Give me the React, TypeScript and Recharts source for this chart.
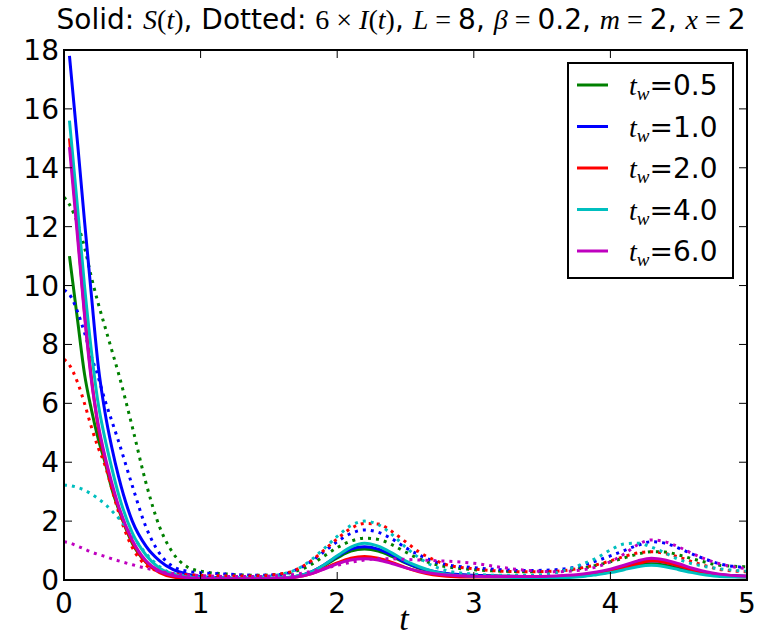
import { LineChart, Line, XAxis, YAxis, Legend } from 'recharts'

// time grid (solid curves start at the second point)
const T = [0, 0.04, 0.1, 0.15, 0.2, 0.25, 0.3, 0.35, 0.4, 0.5, 0.6, 0.7, 0.8, 0.9, 1.0, 1.2, 1.4, 1.6, 1.7, 1.8, 1.9, 2.0, 2.1, 2.2, 2.3, 2.4, 2.5, 2.6, 2.7, 2.8, 3.0, 3.2, 3.4, 3.6, 3.8, 3.9, 4.0, 4.1, 4.2, 4.3, 4.4, 4.5, 4.6, 4.7, 4.8, 5.0]

const TW_LABELS = ['0.5', '1.0', '2.0', '4.0', '6.0']
const COLORS = ['#008000', '#0000ff', '#ff0000', '#00bfbf', '#bf00bf']

// Solid: S(t)
const S_05 = [null, 11.0, 8.8, 7.0, 5.8, 4.8, 4.0, 3.1, 2.4, 1.25, 0.6, 0.28, 0.13, 0.07, 0.05, 0.04, 0.04, 0.07, 0.12, 0.25, 0.48, 0.75, 0.98, 1.05, 0.98, 0.8, 0.58, 0.4, 0.28, 0.2, 0.15, 0.13, 0.12, 0.12, 0.15, 0.2, 0.28, 0.4, 0.5, 0.55, 0.5, 0.4, 0.3, 0.22, 0.17, 0.13]
const S_10 = [null, 17.8, 14.8, 12.2, 9.7, 7.3, 5.7, 4.5, 3.5, 2.0, 1.15, 0.65, 0.35, 0.2, 0.12, 0.07, 0.05, 0.07, 0.12, 0.25, 0.5, 0.8, 1.05, 1.13, 1.05, 0.85, 0.6, 0.42, 0.3, 0.22, 0.16, 0.13, 0.12, 0.12, 0.16, 0.22, 0.32, 0.45, 0.58, 0.65, 0.6, 0.48, 0.35, 0.25, 0.18, 0.13]
const S_20 = [null, 15.0, 11.8, 9.1, 6.9, 5.2, 4.1, 3.2, 2.45, 1.3, 0.6, 0.25, 0.1, 0.06, 0.05, 0.04, 0.04, 0.06, 0.1, 0.2, 0.38, 0.58, 0.74, 0.8, 0.74, 0.6, 0.42, 0.28, 0.18, 0.13, 0.1, 0.1, 0.1, 0.12, 0.16, 0.22, 0.3, 0.42, 0.55, 0.65, 0.6, 0.48, 0.35, 0.24, 0.16, 0.1]
const S_40 = [null, 15.6, 12.6, 10.0, 7.8, 6.0, 4.8, 3.8, 2.9, 1.6, 0.85, 0.4, 0.2, 0.1, 0.06, 0.04, 0.04, 0.07, 0.13, 0.25, 0.5, 0.82, 1.12, 1.25, 1.15, 0.92, 0.65, 0.45, 0.3, 0.2, 0.13, 0.1, 0.08, 0.08, 0.12, 0.18, 0.25, 0.35, 0.45, 0.5, 0.45, 0.35, 0.25, 0.17, 0.12, 0.1]
const S_60 = [null, 14.7, 11.6, 9.0, 6.8, 5.3, 4.2, 3.3, 2.5, 1.35, 0.65, 0.3, 0.15, 0.08, 0.05, 0.04, 0.04, 0.06, 0.1, 0.2, 0.36, 0.55, 0.68, 0.72, 0.68, 0.56, 0.42, 0.3, 0.22, 0.17, 0.13, 0.12, 0.12, 0.14, 0.2, 0.27, 0.37, 0.5, 0.65, 0.74, 0.68, 0.55, 0.4, 0.28, 0.2, 0.13]

// Dotted: 6 x I(t)
const I_05 = [13.0, 12.75, 12.1, 11.3, 10.3, 9.4, 8.6, 7.8, 7.0, 5.2, 3.3, 1.8, 0.9, 0.45, 0.3, 0.2, 0.16, 0.2, 0.3, 0.5, 0.8, 1.1, 1.32, 1.42, 1.38, 1.2, 0.95, 0.72, 0.55, 0.45, 0.35, 0.3, 0.28, 0.3, 0.4, 0.5, 0.62, 0.75, 0.88, 0.96, 0.95, 0.85, 0.72, 0.6, 0.5, 0.45]
const I_10 = [9.85, 9.7, 9.1, 8.4, 7.6, 6.9, 6.1, 5.4, 4.7, 3.2, 1.8, 0.9, 0.45, 0.3, 0.25, 0.2, 0.16, 0.2, 0.35, 0.6, 0.95, 1.3, 1.58, 1.7, 1.62, 1.4, 1.1, 0.85, 0.65, 0.52, 0.42, 0.35, 0.32, 0.35, 0.5, 0.65, 0.82, 1.0, 1.18, 1.3, 1.25, 1.08, 0.88, 0.7, 0.55, 0.42]
const I_20 = [7.5, 7.3, 6.7, 6.0, 5.2, 4.5, 3.9, 3.1, 2.3, 1.1, 0.5, 0.3, 0.22, 0.18, 0.16, 0.14, 0.14, 0.22, 0.35, 0.62, 1.0, 1.4, 1.75, 1.92, 1.9, 1.65, 1.3, 0.95, 0.7, 0.52, 0.38, 0.3, 0.28, 0.3, 0.42, 0.52, 0.65, 0.8, 0.92, 0.96, 0.9, 0.78, 0.62, 0.48, 0.36, 0.28]
const I_40 = [3.23, 3.21, 3.14, 3.05, 2.92, 2.76, 2.58, 2.35, 2.1, 1.5, 0.9, 0.45, 0.22, 0.14, 0.1, 0.08, 0.1, 0.2, 0.35, 0.65, 1.05, 1.48, 1.85, 2.0, 1.88, 1.55, 1.12, 0.75, 0.48, 0.32, 0.2, 0.16, 0.16, 0.25, 0.55, 0.75, 1.02, 1.22, 1.25, 1.12, 0.92, 0.7, 0.55, 0.45, 0.38, 0.3]
const I_60 = [1.3, 1.26, 1.15, 1.05, 0.95, 0.87, 0.8, 0.72, 0.65, 0.52, 0.4, 0.3, 0.22, 0.18, 0.15, 0.12, 0.12, 0.15, 0.2, 0.28, 0.38, 0.5, 0.6, 0.68, 0.72, 0.72, 0.7, 0.68, 0.66, 0.64, 0.57, 0.43, 0.32, 0.28, 0.35, 0.45, 0.62, 0.88, 1.2, 1.36, 1.3, 1.12, 0.9, 0.7, 0.55, 0.38]

const SOLID = [S_05, S_10, S_20, S_40, S_60]
const DOTTED = [I_05, I_10, I_20, I_40, I_60]

const X_TICKS = [0, 1, 2, 3, 4, 5]
const Y_TICKS = [0, 2, 4, 6, 8, 10, 12, 14, 16, 18]

const data = T.map((t, i) => {
  const row: Record<string, number | null> = { t }
  SOLID.forEach((s, k) => { row[`s${k}`] = s[i] })
  DOTTED.forEach((d, k) => { row[`i${k}`] = d[i] })
  return row
})

const TOP = 50
const BOTTOM = 580
const LEFT = 64
const RIGHT = 747
const SANS = 'DejaVu Sans'
const MATH = 'Liberation Serif'

function XTick({ x, payload }: any) {
  return (
    <g>
      <line x1={x} x2={x} y1={BOTTOM} y2={BOTTOM - 8} stroke="#000" />
      <line x1={x} x2={x} y1={TOP} y2={TOP + 8} stroke="#000" />
      <text x={x} y={613} textAnchor="middle" fontSize={28} fontFamily={SANS} fill="#000">
        {payload.value}
      </text>
    </g>
  )
}

function YTick({ y, payload }: any) {
  return (
    <g>
      <line x1={LEFT} x2={LEFT + 8} y1={y} y2={y} stroke="#000" />
      <line x1={RIGHT} x2={RIGHT - 8} y1={y} y2={y} stroke="#000" />
      <text x={LEFT - 5} y={y + 10} textAnchor="end" fontSize={28} fontFamily={SANS} fill="#000">
        {payload.value}
      </text>
    </g>
  )
}

function LegendBox() {
  return (
    <svg width={168} height={218} style={{ display: 'block' }}>
      <rect x={1} y={1} width={165} height={215} fill="#fff" stroke="#000" strokeWidth={2} />
      {TW_LABELS.map((lab, k) => {
        const cy = 23 + k * 41.5
        return (
          <g key={lab}>
            <line x1={10} x2={41} y1={cy} y2={cy} stroke={COLORS[k]} strokeWidth={3} />
            <text x={62} y={cy + 10} fontSize={28} fill="#000">
              <tspan fontFamily={MATH} fontStyle="italic">t</tspan>
              <tspan fontFamily={MATH} fontStyle="italic" fontSize={19} dy={5}>w</tspan>
              <tspan fontFamily={SANS} dy={-5}>=</tspan>
              <tspan fontFamily={SANS}>{lab}</tspan>
            </text>
          </g>
        )
      })}
    </svg>
  )
}

export default function App() {
  return (
    <div style={{ position: 'absolute', left: 0, top: 0, width: 774, height: 640, background: '#fff' }}>
      <LineChart
        width={774}
        height={640}
        data={data}
        margin={{ top: TOP, right: 774 - RIGHT, bottom: 20, left: 14 }}
      >
        <XAxis
          dataKey="t"
          type="number"
          domain={[0, 5]}
          ticks={X_TICKS}
          height={40}
          axisLine={false}
          tickLine={false}
          tick={<XTick />}
          interval={0}
        />
        <YAxis
          type="number"
          domain={[0, 18]}
          ticks={Y_TICKS}
          width={50}
          axisLine={false}
          tickLine={false}
          tick={<YTick />}
          interval={0}
          allowDataOverflow
        />
        {COLORS.map((c, k) => [
          <Line
            key={`s${k}`}
            dataKey={`s${k}`}
            type="monotone"
            stroke={c}
            strokeWidth={3}
            dot={false}
            isAnimationActive={false}
          />,
          <Line
            key={`i${k}`}
            dataKey={`i${k}`}
            type="monotone"
            stroke={c}
            strokeWidth={3}
            strokeDasharray="3 5"
            dot={false}
            isAnimationActive={false}
          />,
        ])}
        <Legend
          layout="horizontal"
          verticalAlign="middle"
          align="center"
          content={() => <LegendBox />}
          wrapperStyle={{ left: 567, top: 62, width: 168, height: 218 }}
        />
      </LineChart>
      <svg
        width={774}
        height={640}
        style={{ position: 'absolute', left: 0, top: 0, pointerEvents: 'none' }}
      >
        <rect x={LEFT} y={TOP} width={RIGHT - LEFT} height={BOTTOM - TOP} fill="none" stroke="#000" strokeWidth={2} />
        <text x={401} y={29} textAnchor="middle" fontSize={28} fill="#000">
          <tspan fontFamily={SANS}>Solid: </tspan>
          <tspan fontFamily={MATH} fontStyle="italic">S</tspan>
          <tspan fontFamily={MATH}>(</tspan>
          <tspan fontFamily={MATH} fontStyle="italic">t</tspan>
          <tspan fontFamily={MATH}>)</tspan>
          <tspan fontFamily={SANS}>, Dotted: </tspan>
          <tspan fontFamily={MATH}>6 × </tspan>
          <tspan fontFamily={MATH} fontStyle="italic">I</tspan>
          <tspan fontFamily={MATH}>(</tspan>
          <tspan fontFamily={MATH} fontStyle="italic">t</tspan>
          <tspan fontFamily={MATH}>)</tspan>
          <tspan fontFamily={SANS}>, </tspan>
          <tspan fontFamily={MATH} fontStyle="italic">L</tspan>
          <tspan fontFamily={MATH}> = </tspan>
          <tspan fontFamily={SANS}>8, </tspan>
          <tspan fontFamily={MATH} fontStyle="italic">β</tspan>
          <tspan fontFamily={MATH}> = </tspan>
          <tspan fontFamily={SANS}>0.2, </tspan>
          <tspan fontFamily={MATH} fontStyle="italic">m</tspan>
          <tspan fontFamily={MATH}> = </tspan>
          <tspan fontFamily={SANS}>2, </tspan>
          <tspan fontFamily={MATH} fontStyle="italic">x</tspan>
          <tspan fontFamily={MATH}> = </tspan>
          <tspan fontFamily={SANS}>2</tspan>
        </text>
        <text x={404} y={630} textAnchor="middle" fontSize={34} fontFamily={MATH} fontStyle="italic" fill="#000">
          t
        </text>
      </svg>
    </div>
  )
}
